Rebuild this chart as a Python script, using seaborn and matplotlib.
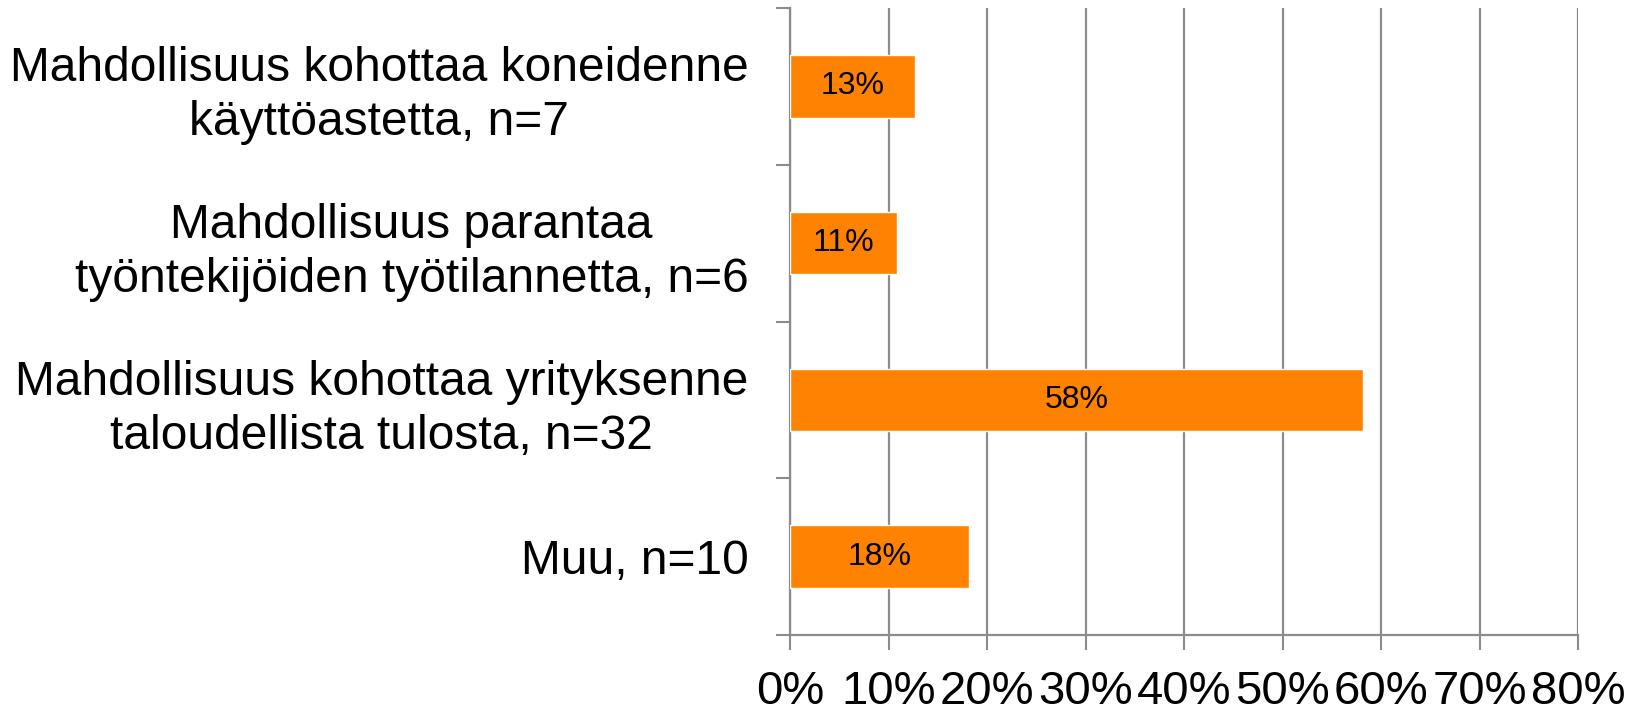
import matplotlib
matplotlib.use("Agg")
import matplotlib.pyplot as plt
import seaborn as sns
import pandas as pd
from matplotlib.ticker import FixedLocator, PercentFormatter

categories = [
    "Mahdollisuus kohottaa koneidenne\nkäyttöastetta, n=7",
    "Mahdollisuus parantaa\ntyöntekijöiden työtilannetta, n=6",
    "Mahdollisuus kohottaa yrityksenne\ntaloudellista tulosta, n=32",
    "Muu, n=10",
]
values = [0.127, 0.109, 0.582, 0.182]
value_labels = ["13%", "11%", "58%", "18%"]
x_ticks = [0.0, 0.1, 0.2, 0.3, 0.4, 0.5, 0.6, 0.7, 0.8]

sns.set_theme(style="white")
plt.rcParams["font.family"] = ["Liberation Sans", "DejaVu Sans"]
plt.rcParams["text.color"] = "black"
plt.rcParams["xtick.labelcolor"] = "black"
plt.rcParams["ytick.labelcolor"] = "black"

df = pd.DataFrame({"cat": categories, "val": values})

fig = plt.figure(figsize=(16.37, 7.11), dpi=100)
ax = fig.add_axes([790 / 1637, 1 - 635 / 711, (1578 - 790) / 1637, (635 - 8) / 711])

grid_c = "#8c8c8c"
sns.barplot(data=df, x="val", y="cat", orient="h", color="#FF8200",
            width=0.4, saturation=1, ax=ax, zorder=3)

for patch, lab in zip(ax.patches, value_labels):
    cx = patch.get_x() + patch.get_width() / 2
    cy = patch.get_y() + patch.get_height() / 2
    ax.text(cx, cy, lab, ha="center", va="center", fontsize=23, color="black", zorder=4)

ax.set_xlim(0, 0.8)
ax.set_ylim(3.5, -0.5)
ax.xaxis.set_major_locator(FixedLocator(x_ticks))
ax.xaxis.set_major_formatter(PercentFormatter(1.0, decimals=0))
ax.grid(axis="x", color=grid_c, linewidth=1.6, zorder=0)
ax.grid(axis="y", visible=False)
ax.set_axisbelow(True)

ax.set_xlabel("")
ax.set_ylabel("")

ax.tick_params(axis="x", which="major", direction="out", length=11, width=1.5,
               color=grid_c, labelsize=34, pad=14, bottom=True, labelcolor="black")
ax.yaxis.set_minor_locator(FixedLocator([-0.5, 0.5, 1.5, 2.5, 3.5]))
ax.tick_params(axis="y", which="major", length=0, labelsize=34.5, pad=30, labelcolor="black")
ax.tick_params(axis="y", which="minor", direction="out", length=10, width=1.5,
               color=grid_c, left=True)
for lab in ax.get_yticklabels():
    lab.set_multialignment("center")
    lab.set_linespacing(1.25)

for s in ["top", "right"]:
    ax.spines[s].set_visible(False)
for s in ["left", "bottom"]:
    ax.spines[s].set_color(grid_c)
    ax.spines[s].set_linewidth(1.6)

fig.savefig("out.png", dpi=100, facecolor="white")
